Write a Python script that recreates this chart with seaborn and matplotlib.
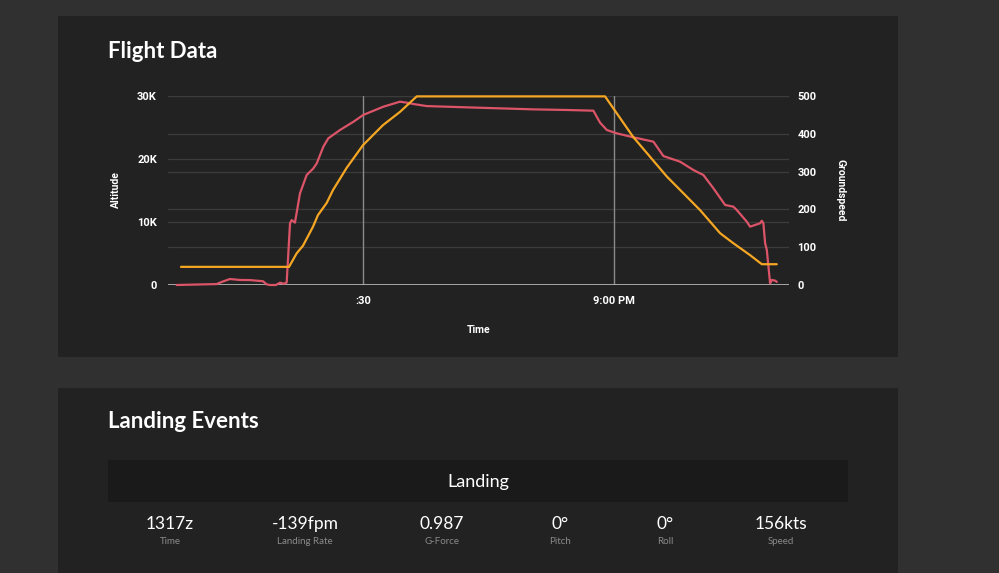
import matplotlib
matplotlib.use("Agg")
import matplotlib.pyplot as plt
import seaborn as sns
import pandas as pd
from matplotlib.patches import Rectangle
from matplotlib.ticker import FuncFormatter

# ---------------- data (minutes after 8:00 PM) ----------------
alt_time = [7.73, 12.51, 13.15, 14.10, 15.30, 16.49, 18.05, 18.49, 18.88, 19.60,
            20.08, 20.56, 20.88, 21.28, 21.48, 21.87, 22.47, 23.27, 24.06, 24.47,
            25.26, 25.85, 27.25, 28.84, 30.04, 32.43, 34.42, 35.22, 36.01, 37.61,
            42.39, 50.32, 54.35, 57.53, 57.93, 58.33, 59.13, 60.33, 62.31, 64.70,
            65.89, 67.89, 69.48, 70.67, 71.87, 73.27, 74.26, 74.66, 75.86, 76.25,
            77.45, 77.65, 77.84, 78.05, 78.25, 78.64, 78.84, 79.24, 79.44]
altitude = [0, 150, 500, 950, 800, 780, 600, 100, 0, 0,
            370, 200, 400, 9800, 10300, 9900, 14550, 17460, 18500, 19300,
            21950, 23280, 24600, 25900, 27000, 28300, 29100, 28940, 28730, 28400,
            28200, 27880, 27780, 27670, 26700, 25760, 24600, 24070, 23440, 22750,
            20470, 19570, 18250, 17460, 15350, 12700, 12430, 11900, 10050, 9260,
            9800, 10200, 9800, 6600, 5560, 270, 800, 700, 500]

gs_time = [8.25, 21.16, 22.08, 22.83, 24.02, 24.62, 25.66, 26.41, 28.05, 30.00,
           32.39, 34.42, 36.42, 58.92, 62.27, 66.30, 70.28, 72.67, 74.22, 76.25,
           77.65, 79.44]
groundspeed = [48, 48, 84, 104, 154, 185, 217, 251, 310, 370,
               423, 458, 499, 499, 392, 287, 198, 137, 111, 79,
               55, 55]

x_ticks = [30, 60]
x_tick_labels = [":30", "9:00 PM"]
alt_ticks = [0, 10000, 20000, 30000]
gs_ticks = [0, 100, 200, 300, 400, 500]

landing_values = ["1317z", "-139fpm", "0.987", "0°", "0°", "156kts"]
landing_labels = ["Time", "Landing Rate", "G-Force", "Pitch", "Roll", "Speed"]

# ---------------- style ----------------
sns.set_theme(style="dark")
plt.rcParams["font.family"] = ["Roboto", "DejaVu Sans"]

W, H = 999, 573
BG = "#303030"
CARD = "#222222"
ALT_C = "#dc5468"
GS_C = "#f5a623"

fig = plt.figure(figsize=(W / 100, H / 100), dpi=100, facecolor=BG)


def fx(x):
    return x / W


def fy(y):
    return 1 - y / H


# cards
fig.patches.append(Rectangle((fx(58), fy(357)), fx(898) - fx(58), fy(16) - fy(357),
                             transform=fig.transFigure, facecolor=CARD, edgecolor="none", zorder=0))
fig.patches.append(Rectangle((fx(58), fy(580)), fx(898) - fx(58), fy(388) - fy(580),
                             transform=fig.transFigure, facecolor=CARD, edgecolor="none", zorder=0))
fig.patches.append(Rectangle((fx(108), fy(502)), fx(848) - fx(108), fy(460) - fy(502),
                             transform=fig.transFigure, facecolor="#1a1a1a", edgecolor="none", zorder=0))

# axes
ax = fig.add_axes([fx(168), fy(285), fx(789) - fx(168), fy(96) - fy(285)])
ax2 = ax.twinx()
for a in (ax, ax2):
    a.set_facecolor("none")
    for s in a.spines.values():
        s.set_visible(False)
ax.set_zorder(1)
ax2.set_zorder(2)

alt_df = pd.DataFrame({"time": alt_time, "altitude": altitude})
gs_df = pd.DataFrame({"time": gs_time, "groundspeed": groundspeed})

sns.lineplot(data=alt_df, x="time", y="altitude", ax=ax, color=ALT_C, linewidth=1.6)
sns.lineplot(data=gs_df, x="time", y="groundspeed", ax=ax2, color=GS_C, linewidth=1.6)
for line in ax.get_lines() + ax2.get_lines():
    line.set_clip_on(False)

xmin, xmax = 6.7, 80.9
ax.set_xlim(xmin, xmax)
ax.set_ylim(0, 30000)
ax2.set_ylim(0, 500)

# gridlines
for v in alt_ticks[1:]:
    ax.axhline(v, color="#3c3c3c", linewidth=0.9, zorder=0)
for v in gs_ticks[1:]:
    ax.axhline(v * 60, color="#3c3c3c", linewidth=0.9, zorder=0)
for v in x_ticks:
    ax.axvline(v, color="#8a8a8a", linewidth=1.0, zorder=0.5)
ax.axhline(0, color="#bdbdbd", linewidth=1.2, zorder=0.6)

ax.set_yticks(alt_ticks)
ax.yaxis.set_major_formatter(FuncFormatter(lambda v, p: "0" if v == 0 else f"{int(v/1000)}K"))
ax2.set_yticks(gs_ticks)
ax.set_xticks(x_ticks)
ax.set_xticklabels(x_tick_labels)
ax.grid(False)
ax2.grid(False)

tick_kw = dict(colors="white", labelsize=8, length=0)
ax.tick_params(axis="y", pad=8, **tick_kw)
ax2.tick_params(axis="y", pad=6, **tick_kw)
ax.tick_params(axis="x", pad=8, **tick_kw)
for lab in ax.get_yticklabels() + ax2.get_yticklabels() + ax.get_xticklabels():
    lab.set_fontweight("bold")

ax.set_xlabel("")
ax.set_ylabel("")
ax2.set_ylabel("")

fig.text(fx(116), fy(190), "Altitude", rotation=90, color="white", fontsize=7.5,
         fontweight="bold", ha="center", va="center")
fig.text(fx(840), fy(190), "Groundspeed", rotation=-90, color="white", fontsize=7.5,
         fontweight="bold", ha="center", va="center")
fig.text(fx(479), fy(330), "Time", color="white", fontsize=7.5, fontweight="bold",
         ha="center", va="center")

# titles
title_font = ["Lato", "DejaVu Sans"]
fig.text(fx(108), fy(51), "Flight Data", color="white", fontsize=16, fontweight="bold",
         ha="left", va="center", family=title_font)
fig.text(fx(108), fy(422), "Landing Events", color="white", fontsize=16, fontweight="bold",
         ha="left", va="center", family=title_font)
fig.text(fx(478), fy(482), "Landing", color="white", fontsize=13,
         ha="center", va="center", family=title_font)

col_x = [170, 305, 442, 560, 665, 781]
for cx, val, lab in zip(col_x, landing_values, landing_labels):
    fig.text(fx(cx), fy(524), val, color="white", fontsize=12.5, ha="center", va="center",
             family=title_font)
    fig.text(fx(cx), fy(541), lab, color="#8a8a8a", fontsize=7, ha="center", va="center",
             family=title_font)

fig.savefig("out.png", dpi=100, facecolor=BG)
